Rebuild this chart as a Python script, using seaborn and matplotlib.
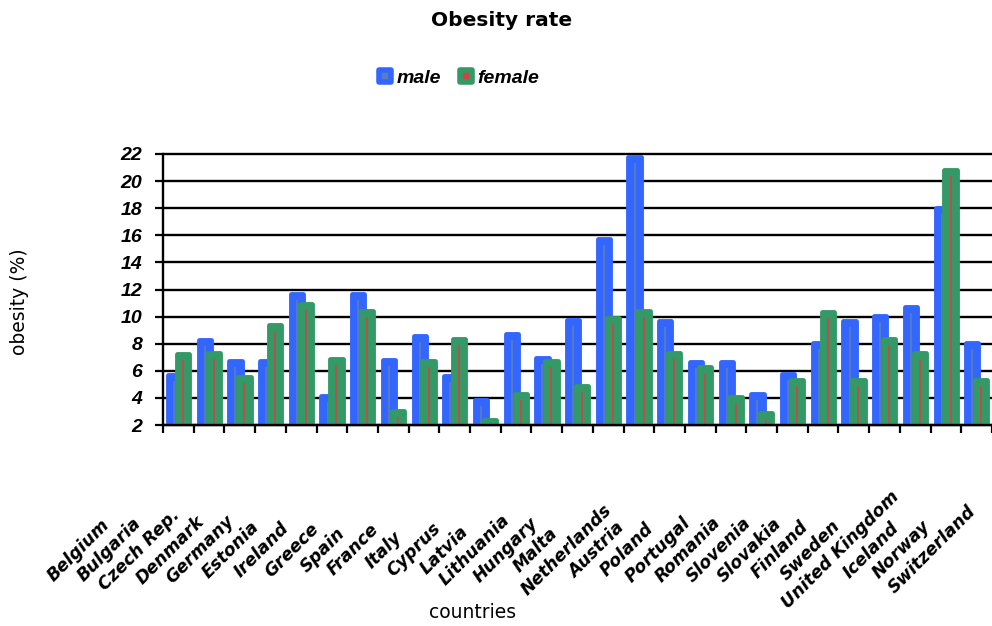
import numpy as np
import pandas as pd
import matplotlib
matplotlib.use("Agg")
import matplotlib.pyplot as plt
from matplotlib.lines import Line2D
from matplotlib.markers import MarkerStyle
import matplotlib.transforms as mtransforms
import seaborn as sns

# ---- data -------------------------------------------------------------
countries = ["Belgium", "Bulgaria", "Czech Rep.", "Denmark", "Germany", "Estonia",
             "Ireland", "Greece", "Spain", "France", "Italy", "Cyprus", "Latvia",
             "Lithuania", "Hungary", "Malta", "Netherlands", "Austria", "Poland",
             "Portugal", "Romania", "Slovenia", "Slovakia", "Finland", "Sweden",
             "United Kingdom", "Iceland", "Norway", "Switzerland"]

male = [5.7, 8.25, 6.75, 6.75, 11.65, 4.15, 11.7, 6.8, 8.55, 5.6, 3.85, 8.75, 6.95,
        9.75, 15.75, 21.8, 9.65, 6.65, 6.65, 4.3, 5.75, 8.05, 9.65, 10.05, 10.7,
        18.05, 8.05]
female = [7.25, 7.35, 5.55, 9.35, 10.95, 6.85, 10.45, 3.05, 6.7, 8.35, 2.35, 4.3, 6.7,
          4.85, 9.9, 10.45, 7.35, 6.25, 4.05, 2.85, 5.35, 10.35, 5.3, 8.35, 7.35,
          20.85, 5.3]

y_ticks = [2, 4, 6, 8, 10, 12, 14, 16, 18, 20, 22]
series_names = ["male", "female"]

df = pd.DataFrame({"group": np.arange(len(male)), "male": male, "female": female})

# ---- style ------------------------------------------------------------
sns.set_style("white")
plt.rcParams["font.family"] = ["DejaVu Sans"]
plt.rcParams["text.color"] = "black"
plt.rcParams["ytick.color"] = "black"
plt.rcParams["xtick.color"] = "black"

BLUE = "#3366ff"
GREEN = "#339966"
BLUE_CORE = "#5a7fb8"
RED_CORE = "#d04444"
bold_it = {"family": ["Liberation Sans", "DejaVu Sans"], "weight": "bold", "style": "italic"}

fig = plt.figure(figsize=(9.92, 6.26), dpi=100)
ax = fig.add_axes([163 / 992, 1 - 425 / 626, 1 - 163 / 992, (425 - 154) / 626])

# ---- bars -------------------------------------------------------------
shift_m, shift_f = -0.14, 0.15
sns.barplot(x=df["group"] + shift_m, y=df["male"], native_scale=True, width=0.40,
            color=BLUE, saturation=1, edgecolor=BLUE, linewidth=3.5, errorbar=None,
            ax=ax, zorder=3)
n_male_patches = len(ax.patches)
sns.barplot(x=df["group"] + shift_f, y=df["female"], native_scale=True, width=0.40,
            color=GREEN, saturation=1, edgecolor=GREEN, linewidth=3.5, errorbar=None,
            ax=ax, zorder=4)
for i, p in enumerate(ax.patches):
    p.set_joinstyle("round")
    p.set_zorder(3 if i < n_male_patches else 4)

# thin centre strokes inside each bar
ax.vlines(df["group"] + shift_m, 2, df["male"] - 0.45, color=BLUE_CORE, lw=1.2, zorder=3.5)
ax.vlines(df["group"] + shift_f, 2, df["female"] - 0.45, color=RED_CORE, lw=1.2, zorder=4.5)

# ---- axes -------------------------------------------------------------
ax.set_ylim(2, 22)
ax.set_xlim(-0.5, -0.5 + 829 / 30.9)
ax.set_yticks(y_ticks)
ax.set_yticklabels([str(t) for t in y_ticks], fontsize=14,
                   family=["Liberation Sans Narrow", "Liberation Sans"],
                   weight="bold", style="italic", color="black")
ax.set_xticks(np.arange(len(male) + 1) - 0.5)
ax.set_xticklabels([])
ax.tick_params(axis="y", length=6, width=1.6, color="black", pad=9, direction="out", left=True)
ax.tick_params(axis="x", length=6, width=1.6, color="black", direction="out", bottom=True)
ax.yaxis.grid(True, color="black", lw=1.7, zorder=1)
for gl in ax.get_ygridlines():
    gl.set_clip_on(False)
ax.set_axisbelow(True)
for side in ["top", "right"]:
    ax.spines[side].set_visible(False)
for side in ["left", "bottom"]:
    ax.spines[side].set_color("black")
    ax.spines[side].set_linewidth(1.7)
    ax.spines[side].set_zorder(5)
ax.set_xlabel("")
ax.set_ylabel("")

# country names, rotated, spread along the bottom
trans = mtransforms.blended_transform_factory(ax.transData, ax.transAxes)
label_x = np.arange(len(countries)) * 0.993 - 3.25
for x, name in zip(label_x, countries):
    ax.text(x, -0.461, name, transform=trans, rotation=45, rotation_mode="anchor",
            ha="center", va="center", fontsize=12.5, fontweight="bold",
            fontstyle="italic", family="DejaVu Sans", color="black", clip_on=False)

# ---- titles & legend --------------------------------------------------
fig.text(0.506, 1 - 20 / 626, "Obesity rate", ha="center", va="center",
         fontsize=14.5, fontweight="bold", color="black")
fig.text(20 / 992, 1 - 302 / 626, "obesity (%)", rotation=90, ha="center",
         va="center", fontsize=13.5, color="black")
fig.text(473 / 992, 1 - 612 / 626, "countries", ha="center", va="center",
         fontsize=13.5, color="black")

handles = [
    Line2D([], [], ls="none", marker=MarkerStyle("s", joinstyle="round"), markersize=8,
           markerfacecolor=BLUE_CORE, markeredgecolor=BLUE, markeredgewidth=4),
    Line2D([], [], ls="none", marker=MarkerStyle("s", joinstyle="round"), markersize=8,
           markerfacecolor=RED_CORE, markeredgecolor=GREEN, markeredgewidth=4),
]
leg = fig.legend(handles, series_names, loc="center", bbox_to_anchor=(0.461, 1 - 78 / 626),
                 ncol=2, frameon=False, handlelength=1.0, handletextpad=0.1,
                 columnspacing=0.8, prop={**bold_it, "size": 14})
for t in leg.get_texts():
    t.set_color("black")

fig.savefig("out.png", dpi=100)
